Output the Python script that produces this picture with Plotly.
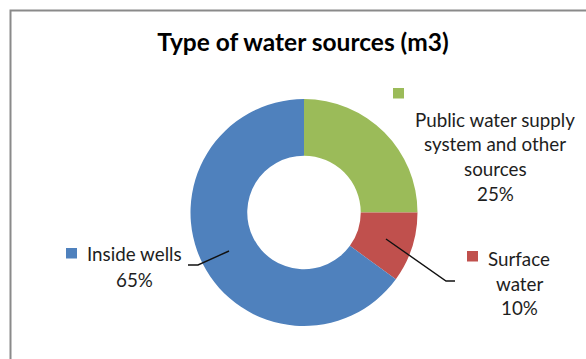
import plotly.graph_objects as go

# Water source shares (m3), in clockwise order from 12 o'clock
categories = ["Public water supply system and other sources", "Surface water", "Inside wells"]
values = [25, 10, 65]
colors = ["#9BBB59", "#C0504D", "#4F81BD"]

W, H = 586, 359
TEXT = "#1e1e1e"
FONT = "Lato"
LABEL_SIZE = 18.8


def fx(px):
    return px / W


def fy(py):
    return 1 - py / H


total = sum(values)
pct = [f"{round(100 * v / total)}%" for v in values]

fig = go.Figure(
    go.Pie(
        labels=categories,
        values=values,
        marker=dict(colors=colors, line=dict(width=0)),
        hole=0.5,
        sort=False,
        direction="clockwise",
        rotation=0,
        textinfo="none",
        hoverinfo="label+percent",
        showlegend=False,
        domain=dict(x=[fx(190.5), fx(417.5)], y=[fy(326), fy(99)]),
    )
)

annotations = []


def add_lines(lines, cx, ys, size=LABEL_SIZE):
    for text, cy in zip(lines, ys):
        annotations.append(
            dict(
                text=text, x=fx(cx), y=fy(cy), xref="paper", yref="paper",
                xanchor="center", yanchor="middle", showarrow=False,
                font=dict(family=FONT, size=size, color=TEXT),
            )
        )


# Public water supply label (wrapped over several lines)
add_lines(["Public water supply", "system and other", "sources", pct[0]], 495, [119, 143, 168, 193])
# Surface water label
add_lines(["Surface", "water", pct[1]], 519, [258, 283, 307])
# Inside wells label
add_lines(["Inside wells", pct[2]], 134.5, [253, 279])

shapes = []


def key(x0, y0, color):
    shapes.append(
        dict(type="rect", xref="paper", yref="paper",
             x0=fx(x0), x1=fx(x0 + 11), y0=fy(y0 + 10.5), y1=fy(y0),
             fillcolor=color, line=dict(width=0))
    )


key(393, 88, colors[0])
key(467, 251, colors[1])
key(66, 248, colors[2])


def leader(points):
    path = "M " + " L ".join(f"{fx(x)},{fy(y)}" for x, y in points)
    shapes.append(dict(type="path", xref="paper", yref="paper", path=path,
                       line=dict(color="#111111", width=1.4)))


leader([(386, 239), (446, 281), (455, 281)])
leader([(188, 265), (198, 265), (229, 251)])

# Chart area outline
shapes.append(dict(type="rect", xref="paper", yref="paper",
                   x0=fx(10.5), y1=fy(10.5), x1=fx(620), y0=fy(400),
                   line=dict(color="#8a8a8a", width=2), fillcolor="rgba(0,0,0,0)"))

fig.update_layout(
    width=W,
    height=H,
    margin=dict(l=0, r=0, t=0, b=0),
    paper_bgcolor="white",
    plot_bgcolor="white",
    title=dict(
        text="<b>Type of water sources (m3)</b>",
        x=fx(303), y=fy(42), xanchor="center", yanchor="middle",
        xref="paper", yref="container",
        font=dict(family=FONT, size=24.5, color="#000000"),
    ),
    annotations=annotations,
    shapes=shapes,
)

fig.write_html("out.html")
